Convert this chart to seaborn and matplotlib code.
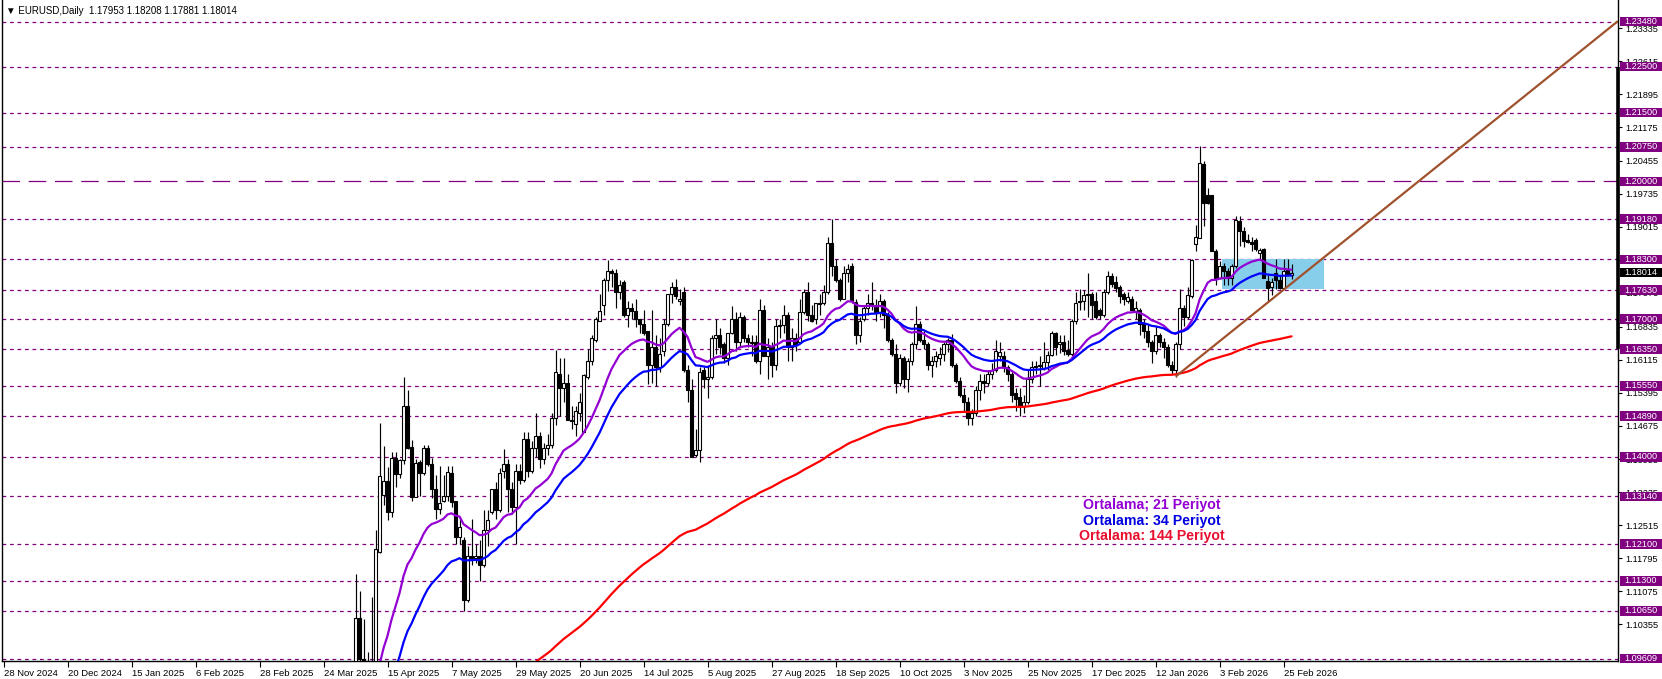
import numpy as np
import pandas as pd
import matplotlib
matplotlib.use("Agg")
import matplotlib.pyplot as plt
import matplotlib.transforms as mtransforms
from matplotlib.patches import Rectangle
import seaborn as sns

# ---------------- data ----------------
first_session = "2024-11-28"
last_session = "2026-02-27"
holidays = ["2024-12-25", "2025-01-01", "2025-12-25", "2026-01-01"]

tick_labels = ["28 Nov 2024", "20 Dec 2024", "15 Jan 2025", "6 Feb 2025", "28 Feb 2025",
               "24 Mar 2025", "15 Apr 2025", "7 May 2025", "29 May 2025", "20 Jun 2025",
               "14 Jul 2025", "5 Aug 2025", "27 Aug 2025", "18 Sep 2025", "10 Oct 2025",
               "3 Nov 2025", "25 Nov 2025", "17 Dec 2025", "12 Jan 2026", "3 Feb 2026",
               "25 Feb 2026"]

# daily candles 3 Apr 2025 .. 27 Feb 2026 (earlier sessions lie below the visible range)
opens = [
    # Apr
    1.0850, 1.1050, 1.0960, 1.0910, 1.0955, 1.0950, 1.1193, 1.1317, 1.1347, 1.1280,
    1.1398, 1.1362, 1.1393, 1.1510, 1.1422, 1.1313, 1.1390, 1.1365, 1.1420, 1.1385,
    # May
    1.1330, 1.1287, 1.1303, 1.1314, 1.1365, 1.1303, 1.1225, 1.1220, 1.1088, 1.1185, 1.1180,
    1.1185, 1.1165, 1.1240, 1.1280, 1.1330, 1.1285, 1.1370, 1.1385, 1.1330, 1.1290, 1.1370,
    # Jun
    1.1350, 1.1440, 1.1370, 1.1420, 1.1445, 1.1395, 1.1420, 1.1425, 1.1485, 1.1580, 1.1550,
    1.1560, 1.1480, 1.1472, 1.1495, 1.1455, 1.1575, 1.1610, 1.1655, 1.1695, 1.1730,
    # Jul
    1.1785, 1.1805, 1.1800, 1.1760, 1.1780, 1.1710, 1.1725, 1.1718, 1.1700, 1.1690, 1.1675,
    1.1600, 1.1640, 1.1595, 1.1630, 1.1690, 1.1755, 1.1770, 1.1740, 1.1760, 1.1590, 1.1545, 1.1405,
    # Aug
    1.1415, 1.1590, 1.1570, 1.1575, 1.1660, 1.1665, 1.1645, 1.1615, 1.1670, 1.1700, 1.1650,
    1.1705, 1.1660, 1.1650, 1.1650, 1.1610, 1.1720, 1.1620, 1.1640, 1.1600, 1.1685,
    # Sep
    1.1688, 1.1710, 1.1640, 1.1660, 1.1650, 1.1715, 1.1760, 1.1710, 1.1700, 1.1735, 1.1735,
    1.1760, 1.1865, 1.1815, 1.1785, 1.1745, 1.1800, 1.1815, 1.1738, 1.1665, 1.1700, 1.1725,
    # Oct
    1.1735, 1.1730, 1.1715, 1.1740, 1.1710, 1.1655, 1.1625, 1.1560, 1.1615, 1.1570, 1.1610,
    1.1645, 1.1690, 1.1655, 1.1645, 1.1600, 1.1610, 1.1615, 1.1625, 1.1645, 1.1655, 1.1600, 1.1565,
    # Nov
    1.1535, 1.1520, 1.1485, 1.1495, 1.1545, 1.1565, 1.1560, 1.1580, 1.1590, 1.1620,
    1.1620, 1.1595, 1.1580, 1.1540, 1.1530, 1.1512, 1.1520, 1.1570, 1.1595, 1.1597,
    # Dec
    1.1593, 1.1607, 1.1622, 1.1669, 1.1645, 1.1650, 1.1632, 1.1625, 1.1695, 1.1738, 1.1740,
    1.1752, 1.1755, 1.1740, 1.1720, 1.1710, 1.1760, 1.1795, 1.1780, 1.1770, 1.1755, 1.1740,
    # Jan
    1.1745, 1.1718, 1.1720, 1.1690, 1.1675, 1.1650, 1.1630, 1.1665, 1.1650, 1.1640, 1.1600,
    1.1590, 1.1645, 1.1725, 1.1705, 1.1750, 1.1863, 1.1877, 1.2037, 1.1970, 1.1970,
    # Feb
    1.1849, 1.1789, 1.1815, 1.1804, 1.1790, 1.1815, 1.1913, 1.1893, 1.1872, 1.1868,
    1.1873, 1.1845, 1.1852, 1.1783, 1.1770, 1.1800, 1.1786, 1.1768, 1.1808, 1.17953,
]
highs = [
    1.1144, 1.1107, 1.1046, 1.0975, 1.1094, 1.1240, 1.1473, 1.1424, 1.1378, 1.1411,
    1.1411, 1.1395, 1.1573, 1.1546, 1.1437, 1.1396, 1.1394, 1.1425, 1.1425, 1.1398,
    1.1360, 1.1380, 1.1360, 1.1380, 1.1380, 1.1303, 1.1265, 1.1225, 1.1205, 1.1265, 1.1210,
    1.1220, 1.1285, 1.1285, 1.1330, 1.1345, 1.1375, 1.1418, 1.1395, 1.1345, 1.1385, 1.1385,
    1.1455, 1.1455, 1.1435, 1.1495, 1.1455, 1.1430, 1.1450, 1.1495, 1.1632, 1.1615, 1.1615,
    1.1580, 1.1510, 1.1510, 1.1540, 1.1580, 1.1635, 1.1665, 1.1705, 1.1755, 1.1790,
    1.1828, 1.1810, 1.1810, 1.1785, 1.1786, 1.1740, 1.1735, 1.1745, 1.1700, 1.1720, 1.1675,
    1.1720, 1.1665, 1.1660, 1.1700, 1.1755, 1.1780, 1.1788, 1.1765, 1.1770, 1.1600, 1.1570, 1.1460,
    1.1595, 1.1595, 1.1600, 1.1665, 1.1700, 1.1680, 1.1650, 1.1670, 1.1728, 1.1715, 1.1715,
    1.1710, 1.1668, 1.1665, 1.1665, 1.1743, 1.1730, 1.1660, 1.1650, 1.1700, 1.1700,
    1.1730, 1.1715, 1.1680, 1.1670, 1.1745, 1.1765, 1.1780, 1.1730, 1.1735, 1.1755, 1.1775,
    1.1878, 1.1918, 1.1830, 1.1790, 1.1815, 1.1820, 1.1822, 1.1745, 1.1705, 1.1730, 1.1755,
    1.1780, 1.1745, 1.1755, 1.1745, 1.1715, 1.1660, 1.1645, 1.1625, 1.1620, 1.1615, 1.1650,
    1.1728, 1.1695, 1.1675, 1.1650, 1.1620, 1.1630, 1.1640, 1.1650, 1.1660, 1.1668, 1.1605, 1.1575,
    1.1550, 1.1530, 1.1505, 1.1555, 1.1580, 1.1580, 1.1590, 1.1605, 1.1655, 1.1650,
    1.1630, 1.1600, 1.1585, 1.1550, 1.1550, 1.1535, 1.1590, 1.1610, 1.1610, 1.1620,
    1.1650, 1.1630, 1.1674, 1.1672, 1.1665, 1.1665, 1.1655, 1.1700, 1.1760, 1.1765, 1.1763,
    1.1800, 1.1760, 1.1760, 1.1725, 1.1765, 1.1805, 1.1800, 1.1795, 1.1775, 1.1760, 1.1760,
    1.1750, 1.1740, 1.1725, 1.1700, 1.1690, 1.1655, 1.1685, 1.1670, 1.1660, 1.1645, 1.1610,
    1.1650, 1.1765, 1.1730, 1.1770, 1.1830, 1.1905, 1.2078, 1.2045, 1.1985, 1.1971,
    1.1852, 1.1827, 1.1822, 1.1812, 1.1820, 1.1925, 1.1925, 1.1900, 1.1885, 1.1880,
    1.1877, 1.1855, 1.1855, 1.1797, 1.1790, 1.1830, 1.1797, 1.1830, 1.1830, 1.18208,
]
lows = [
    1.0830, 1.0948, 1.0811, 1.0880, 1.0900, 1.0945, 1.1190, 1.1295, 1.1262, 1.1270,
    1.1334, 1.1355, 1.1385, 1.1418, 1.1305, 1.1312, 1.1315, 1.1360, 1.1380, 1.1310,
    1.1265, 1.1275, 1.1302, 1.1305, 1.1290, 1.1211, 1.1210, 1.1065, 1.1085, 1.1165, 1.1170,
    1.1130, 1.1160, 1.1205, 1.1275, 1.1265, 1.1280, 1.1355, 1.1280, 1.1275, 1.1210, 1.1340,
    1.1345, 1.1357, 1.1365, 1.1400, 1.1375, 1.1385, 1.1405, 1.1420, 1.1470, 1.1490, 1.1520,
    1.1480, 1.1460, 1.1446, 1.1478, 1.1455, 1.1570, 1.1600, 1.1650, 1.1695, 1.1710,
    1.1762, 1.1770, 1.1725, 1.1743, 1.1705, 1.1683, 1.1700, 1.1683, 1.1670, 1.1665, 1.1558,
    1.1560, 1.1555, 1.1585, 1.1620, 1.1685, 1.1735, 1.1745, 1.1730, 1.1585, 1.1520, 1.1400, 1.1400,
    1.1390, 1.1550, 1.1528, 1.1570, 1.1625, 1.1625, 1.1605, 1.1600, 1.1667, 1.1630, 1.1640,
    1.1650, 1.1640, 1.1620, 1.1605, 1.1580, 1.1620, 1.1570, 1.1575, 1.1590, 1.1660,
    1.1670, 1.1610, 1.1608, 1.1630, 1.1650, 1.1712, 1.1695, 1.1694, 1.1690, 1.1710, 1.1730,
    1.1755, 1.1795, 1.1780, 1.1740, 1.1745, 1.1780, 1.1735, 1.1645, 1.1650, 1.1695, 1.1710,
    1.1720, 1.1695, 1.1705, 1.1680, 1.1650, 1.1620, 1.1540, 1.1555, 1.1550, 1.1542, 1.1600,
    1.1635, 1.1650, 1.1635, 1.1590, 1.1575, 1.1595, 1.1600, 1.1610, 1.1628, 1.1595, 1.1560, 1.1530,
    1.1500, 1.1470, 1.1470, 1.1490, 1.1525, 1.1540, 1.1555, 1.1570, 1.1585, 1.1610,
    1.1585, 1.1565, 1.1520, 1.1500, 1.1490, 1.1495, 1.1515, 1.1560, 1.1580, 1.1555,
    1.1590, 1.1590, 1.1620, 1.1622, 1.1627, 1.1622, 1.1620, 1.1620, 1.1690, 1.1720, 1.1720,
    1.1705, 1.1700, 1.1700, 1.1700, 1.1705, 1.1755, 1.1770, 1.1760, 1.1735, 1.1730, 1.1735,
    1.1720, 1.1700, 1.1666, 1.1660, 1.1640, 1.1605, 1.1625, 1.1640, 1.1615, 1.1595, 1.1580,
    1.1575, 1.1635, 1.1685, 1.1700, 1.1746, 1.1848, 1.1877, 1.1904, 1.1950, 1.1848,
    1.1775, 1.1787, 1.1775, 1.1775, 1.1775, 1.1812, 1.1860, 1.1858, 1.1865, 1.1848,
    1.1848, 1.1830, 1.1789, 1.1740, 1.1752, 1.1765, 1.1765, 1.1765, 1.1797, 1.17881,
]
closes = [
    1.1050, 1.0960, 1.0910, 1.0955, 1.0950, 1.1200, 1.1358, 1.1347, 1.1280, 1.1398,
    1.1362, 1.1393, 1.1512, 1.1420, 1.1313, 1.1387, 1.1365, 1.1420, 1.1385, 1.1330,
    1.1287, 1.1300, 1.1314, 1.1367, 1.1302, 1.1225, 1.1247, 1.1088, 1.1185, 1.1180, 1.1185,
    1.1165, 1.1240, 1.1263, 1.1330, 1.1285, 1.1365, 1.1385, 1.1330, 1.1290, 1.1370, 1.1350,
    1.1440, 1.1370, 1.1420, 1.1445, 1.1395, 1.1420, 1.1425, 1.1485, 1.1585, 1.1550, 1.1560,
    1.1480, 1.1478, 1.1500, 1.1520, 1.1578, 1.1610, 1.1660, 1.1700, 1.1718, 1.1786,
    1.1805, 1.1800, 1.1760, 1.1775, 1.1710, 1.1725, 1.1718, 1.1700, 1.1690, 1.1670, 1.1600,
    1.1640, 1.1595, 1.1625, 1.1690, 1.1755, 1.1770, 1.1750, 1.1745, 1.1590, 1.1545, 1.1400, 1.1415,
    1.1585, 1.1570, 1.1575, 1.1660, 1.1665, 1.1640, 1.1615, 1.1670, 1.1700, 1.1650, 1.1705,
    1.1660, 1.1650, 1.1648, 1.1610, 1.1720, 1.1620, 1.1640, 1.1600, 1.1685, 1.1688,
    1.1710, 1.1640, 1.1660, 1.1645, 1.1716, 1.1760, 1.1710, 1.1695, 1.1735, 1.1733, 1.1760,
    1.1865, 1.1815, 1.1785, 1.1745, 1.1800, 1.1810, 1.1740, 1.1665, 1.1695, 1.1725, 1.1735,
    1.1730, 1.1715, 1.1740, 1.1710, 1.1655, 1.1625, 1.1560, 1.1615, 1.1570, 1.1610, 1.1645,
    1.1690, 1.1655, 1.1645, 1.1600, 1.1610, 1.1620, 1.1625, 1.1645, 1.1655, 1.1600, 1.1565, 1.1535,
    1.1520, 1.1485, 1.1495, 1.1545, 1.1565, 1.1560, 1.1580, 1.1590, 1.1630, 1.1628,
    1.1595, 1.1580, 1.1535, 1.1527, 1.1510, 1.1520, 1.1570, 1.1595, 1.1597, 1.1600,
    1.1607, 1.1622, 1.1669, 1.1640, 1.1650, 1.1630, 1.1625, 1.1695, 1.1735, 1.1740, 1.1752,
    1.1755, 1.1730, 1.1705, 1.1710, 1.1760, 1.1795, 1.1777, 1.1767, 1.1750, 1.1745, 1.1748,
    1.1720, 1.1725, 1.1690, 1.1675, 1.1650, 1.1630, 1.1665, 1.1650, 1.1640, 1.1600, 1.1590,
    1.1645, 1.1725, 1.1705, 1.1752, 1.1828, 1.1879, 1.2041, 1.1954, 1.1952, 1.1848,
    1.1789, 1.1815, 1.1804, 1.1790, 1.1815, 1.1915, 1.1892, 1.1870, 1.1868, 1.1864,
    1.1852, 1.1851, 1.1790, 1.1768, 1.1781, 1.1786, 1.1768, 1.1804, 1.1796, 1.18014,
]

# exponential moving averages (value on the session before the first candle)
ma_periods = [21, 34, 144]
ma_seeds = [1.0825, 1.0710, 1.0650]
ma_colors = ["#9400D3", "#0000FF", "#FF0000"]
legend_texts = ["Ortalama; 21 Periyot", "Ortalama: 34 Periyot", "Ortalama: 144 Periyot"]
legend_colors = ["#9400D3", "#0000E0", "#E8102E"]

level_prices = [1.23480, 1.22500, 1.21500, 1.20750, 1.20000, 1.19180, 1.18300, 1.17630,
                1.17000, 1.16350, 1.15550, 1.14890, 1.14000, 1.13140, 1.12100, 1.11300,
                1.10650, 1.09609]
long_dash_level = 1.20000
axis_prices = [1.23335, 1.22615, 1.21895, 1.21175, 1.20455, 1.19735, 1.19015, 1.18295,
               1.17575, 1.16835, 1.16115, 1.15395, 1.14675, 1.13955, 1.13235, 1.12515,
               1.11795, 1.11075, 1.10355]
last_price = 1.18014
range_bar = [1.16350, 1.22500]

trend_dates = ["2026-01-19", "2026-02-27"]
trend_prices = [1.1575, 1.1778]

zone_start = "2026-02-04"
zone_length_sessions = 25.5
zone_prices = [1.1766, 1.1831]

title = "\u25bc EURUSD,Daily  1.17953 1.18208 1.17881 1.18014"

# ---------------- figure ----------------
sns.set_theme(style="white")
plt.rcParams["font.family"] = ["Liberation Sans", "DejaVu Sans"]

W, H = 1662, 679
fig = plt.figure(figsize=(W / 100, H / 100), dpi=100)
ax_left, ax_right, ax_top, ax_bottom = 1.5, 1618.0, 0.5, 661.0
ax = fig.add_axes([ax_left / W, (H - ax_bottom) / H, (ax_right - ax_left) / W, (ax_bottom - ax_top) / H])

sessions = pd.bdate_range(first_session, last_session)
sessions = sessions[~sessions.isin(pd.to_datetime(holidays))]
pos = {d: k for k, d in enumerate(sessions)}
n = len(closes)
x = np.arange(len(sessions))[-n:]

o = np.array(opens); h = np.array(highs); l = np.array(lows); c = np.array(closes)

xmin, xmax = -0.5, 403.6
ymin, ymax = 1.09556, 1.23940
ax.set_xlim(xmin, xmax)
ax.set_ylim(ymin, ymax)

# horizontal levels
for lv in level_prices:
    if lv == long_dash_level:
        ax.axhline(lv, color="#800080", lw=0.9, ls=(0, (14, 7)), zorder=1)
    else:
        ax.axhline(lv, color="#800080", lw=0.9, ls=(0, (3, 3)), zorder=1)

# zone rectangle
z0 = pos[pd.Timestamp(zone_start)] - 0.5
ax.add_patch(Rectangle((z0, zone_prices[0]), zone_length_sessions, zone_prices[1] - zone_prices[0],
                       facecolor="#87CEEB", edgecolor="none", zorder=2))

# candles
ax.vlines(x, l, h, color="black", lw=0.85, zorder=3)
up = c >= o
bottom = np.minimum(o, c)
height = np.maximum(np.abs(c - o), 0.00002)
ax.bar(x[up], height[up], bottom=bottom[up], width=0.55, color="white", edgecolor="black",
       linewidth=0.8, zorder=4)
ax.bar(x[~up], height[~up], bottom=bottom[~up], width=0.55, color="black", edgecolor="black",
       linewidth=0.8, zorder=4)

# moving averages
for period, seed, color in zip(ma_periods, ma_seeds, ma_colors):
    ema = pd.Series([seed] + closes).ewm(span=period, adjust=False).mean().to_numpy()[1:]
    sns.lineplot(x=x, y=ema, color=color, lw=1.6, ax=ax, zorder=5)

# trend line (ray to the right edge)
tx = [pos[pd.Timestamp(d)] for d in trend_dates]
slope = (trend_prices[1] - trend_prices[0]) / (tx[1] - tx[0])
ax.plot([tx[0], xmax], [trend_prices[0], trend_prices[0] + slope * (xmax - tx[0])],
        color="#A0522D", lw=1.6, zorder=6, solid_capstyle="butt")

# axes styling
for s in ax.spines.values():
    s.set_color("black")
    s.set_linewidth(1.0)
ax.spines["top"].set_visible(False)
ax.grid(False)
ax.set_xlabel("")
ax.set_ylabel("")
ax.yaxis.tick_right()
ax.set_yticks(axis_prices)
ax.set_yticklabels([f"{p:.5f}" for p in axis_prices])
ax.tick_params(axis="y", which="both", right=True, left=False, direction="out", length=3,
               width=0.8, pad=2.5, labelsize=6.6, colors="black")
ax.set_xticks(np.arange(0, len(sessions), 16)[:len(tick_labels)])
ax.set_xticklabels(tick_labels, ha="left")
ax.tick_params(axis="x", which="both", bottom=True, direction="out", length=4, width=0.8,
               pad=1.5, labelsize=6.8, colors="black")

# right-side price boxes
trans = mtransforms.blended_transform_factory(ax.transAxes, ax.transData)
ax_w_px = ax_right - ax_left
price_per_px = (ymax - ymin) / (ax_bottom - ax_top)
bx0 = (1620 - ax_left) / ax_w_px
bw = 42 / ax_w_px
bh = 9.5 * price_per_px
for lv in level_prices:
    ax.add_patch(Rectangle((bx0, lv - bh / 2), bw, bh, transform=trans, facecolor="#800080",
                           edgecolor="none", clip_on=False, zorder=10))
    ax.text(bx0 + bw / 2, lv, f"{lv:.5f}", transform=trans, color="white", fontsize=6.6,
            ha="center", va="center", clip_on=False, zorder=11)
ax.add_patch(Rectangle((bx0, last_price - bh / 2), bw, bh, transform=trans, facecolor="black",
                       edgecolor="none", clip_on=False, zorder=10))
ax.text(bx0 + bw / 2, last_price, f"{last_price:.5f}", transform=trans, color="white",
        fontsize=6.6, ha="center", va="center", clip_on=False, zorder=11)

# thick range marker on the price scale
ax.plot([1.0, 1.0], range_bar, transform=trans, color="black", lw=2.6, clip_on=False,
        solid_capstyle="butt", zorder=9)

# legend texts
for k, (txt, col) in enumerate(zip(legend_texts, legend_colors)):
    fig.text(1152 / W, 1 - (505 + 15.5 * k) / H, txt, color=col, fontsize=10.2,
             fontweight="bold", ha="center", va="center")

# title
fig.text(6 / W, 1 - 11 / H, title, fontsize=7, ha="left", va="center", color="black",
         family=["Liberation Sans", "DejaVu Sans"])

fig.savefig("out.png", dpi=100)
